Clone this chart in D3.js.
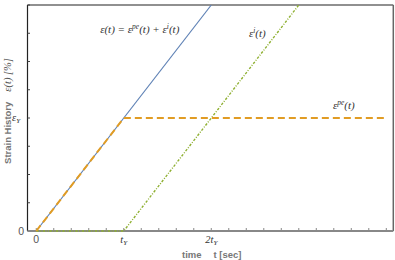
<!DOCTYPE html>
<html>
<head>
<meta charset="utf-8">
<script src="https://cdn.jsdelivr.net/npm/d3@7"></script>
<style>
  body { margin: 0; background: #fff; }
  svg { display: block; }
  .math { font-family: "Liberation Serif", "DejaVu Serif", serif; font-style: italic; fill: #333; }
  .axis_label { font-family: "Liberation Sans", Arial, sans-serif; font-weight: bold; fill: #777; font-size: 9.5px; }
</style>
</head>
<body>
<div id="chart"></div>
<script>
// time in units of t_Y, strain in units of eps_Y
var totalT = [0, 2.0];
var totalStrain = [0, 2.0];

var elasticT = [0, 1, 4];
var elasticStrain = [0, 1, 1];

var inelasticT = [0, 1, 3];
var inelasticStrain = [0, 0, 2];

var xTickValues = d3.range(0, 4.01, 0.2);
var yTickValues = d3.range(0, 2.01, 0.25);
var xTickLabels = {0: "0", 1: "t", 2: "2t"};

var width = 395, height = 260;

var svg = d3.select("#chart")
    .append("svg")
        .attr("width", width)
        .attr("height", height);

var x = d3.scaleLinear()
    .domain([-0.1, 4.08])
    .range([27.5, 393.3]);

var y = d3.scaleLinear()
    .domain([0, 2])
    .range([231, 5]);

// frame
svg.append("line").attr("x1", x(-0.1)).attr("x2", x(4.08)).attr("y1", y(2)).attr("y2", y(2))
    .style("stroke", "#222").style("stroke-width", 1.2);
svg.append("line").attr("x1", x(4.08)).attr("x2", x(4.08)).attr("y1", y(2)).attr("y2", y(0))
    .style("stroke", "#666").style("stroke-width", 1.5);
svg.append("line").attr("x1", x(-0.1)).attr("x2", x(-0.1)).attr("y1", y(2)).attr("y2", y(0))
    .style("stroke", "#222").style("stroke-width", 1.2);

// ticks
svg.selectAll(".xtick").data(xTickValues).enter()
    .append("line")
        .attr("x1", function(d){ return x(d); })
        .attr("x2", function(d){ return x(d); })
        .attr("y1", y(0))
        .attr("y2", y(0) - 3)
        .style("stroke", "#888").style("stroke-width", 1);

svg.selectAll(".ytick").data(yTickValues).enter()
    .append("line")
        .attr("x1", x(-0.1))
        .attr("x2", x(-0.1) + 2.5)
        .attr("y1", function(d){ return y(d); })
        .attr("y2", function(d){ return y(d); })
        .style("stroke", "#444").style("stroke-width", 1);

// bottom axis line
svg.append("line").attr("x1", x(-0.1)).attr("x2", x(4.08)).attr("y1", y(0)).attr("y2", y(0))
    .style("stroke", "#888").style("stroke-width", 2);

var line = d3.line()
    .x(function(d){ return x(d[0]); })
    .y(function(d){ return y(d[1]); });

// total strain
svg.append("path")
    .datum(d3.zip(totalT, totalStrain))
    .attr("d", line)
    .style("fill", "none")
    .style("stroke", "#5E81B5")
    .style("stroke-width", 1.2);

// inelastic strain
svg.append("path")
    .datum(d3.zip(inelasticT, inelasticStrain))
    .attr("d", line)
    .style("fill", "none")
    .style("stroke", "#8FB032")
    .style("stroke-width", 1.4)
    .style("stroke-dasharray", "2.5,1.5,1,1.5");

// elastic strain
svg.append("path")
    .datum(d3.zip(elasticT, elasticStrain))
    .attr("d", line)
    .style("fill", "none")
    .style("stroke", "#E19C24")
    .style("stroke-width", 2)
    .style("stroke-dasharray", "7,4");

// tick labels x
var xl = svg.selectAll(".xlab").data([0, 1, 2]).enter()
    .append("text")
        .attr("class", "math")
        .attr("x", function(d){ return x(d); })
        .attr("y", 243)
        .attr("text-anchor", "middle")
        .style("font-size", "10.5px");
xl.filter(function(d){ return d == 0; })
    .style("font-style", "normal")
    .style("font-family", "Liberation Sans, Arial, sans-serif")
    .style("fill", "#555")
    .text("0");
xl.filter(function(d){ return d > 0; })
    .text(function(d){ return xTickLabels[d]; })
    .append("tspan")
        .attr("dy", 2)
        .style("font-size", "7px")
        .text("Y");

// tick labels y
svg.append("text")
    .attr("x", 24)
    .attr("y", y(0) + 4)
    .attr("text-anchor", "end")
    .style("font-family", "Liberation Sans, Arial, sans-serif")
    .style("font-size", "10.5px")
    .style("fill", "#555")
    .text("0");

var ey = svg.append("text")
    .attr("class", "math")
    .attr("x", 12)
    .attr("y", y(1) + 3)
    .style("font-size", "10.5px")
    .text("ε");
ey.append("tspan").attr("dy", 2).style("font-size", "7px").text("Y");

// axis labels
var xlab = svg.append("text")
    .attr("x", 182)
    .attr("y", 257.5)
    .attr("class", "axis_label");
xlab.append("tspan").text("time");
xlab.append("tspan").attr("dx", 12).text("t [sec]");

var ylab = svg.append("text")
    .attr("transform", "translate(10.5,111) rotate(-90)")
    .attr("text-anchor", "middle")
    .attr("class", "axis_label");
ylab.append("tspan").text("Strain History");
ylab.append("tspan").attr("dx", 10)
    .style("font-family", "Liberation Serif, serif")
    .style("font-style", "italic")
    .style("font-weight", "normal")
    .style("font-size", "10.5px")
    .style("fill", "#555")
    .text("ε(t) [%]");

// curve annotations
function sup(sel, s) {
    sel.append("tspan").attr("dy", -4).style("font-size", "7.5px").text(s);
    sel.append("tspan").attr("dy", 4).text("(t)");
}

var a1 = svg.append("text").attr("class", "math")
    .attr("x", x(0.73)).attr("y", y(1.75))
    .style("font-size", "11px");
a1.append("tspan").text("ε(t) = ε");
sup(a1, "pe");
a1.append("tspan").text(" + ε");
sup(a1, "i");

var a2 = svg.append("text").attr("class", "math")
    .attr("x", x(2.43)).attr("y", y(1.72))
    .style("font-size", "11px");
a2.append("tspan").text("ε");
sup(a2, "i");

var a3 = svg.append("text").attr("class", "math")
    .attr("x", x(3.39)).attr("y", y(1.08))
    .style("font-size", "11px");
a3.append("tspan").text("ε");
sup(a3, "pe");
</script>
</body>
</html>
